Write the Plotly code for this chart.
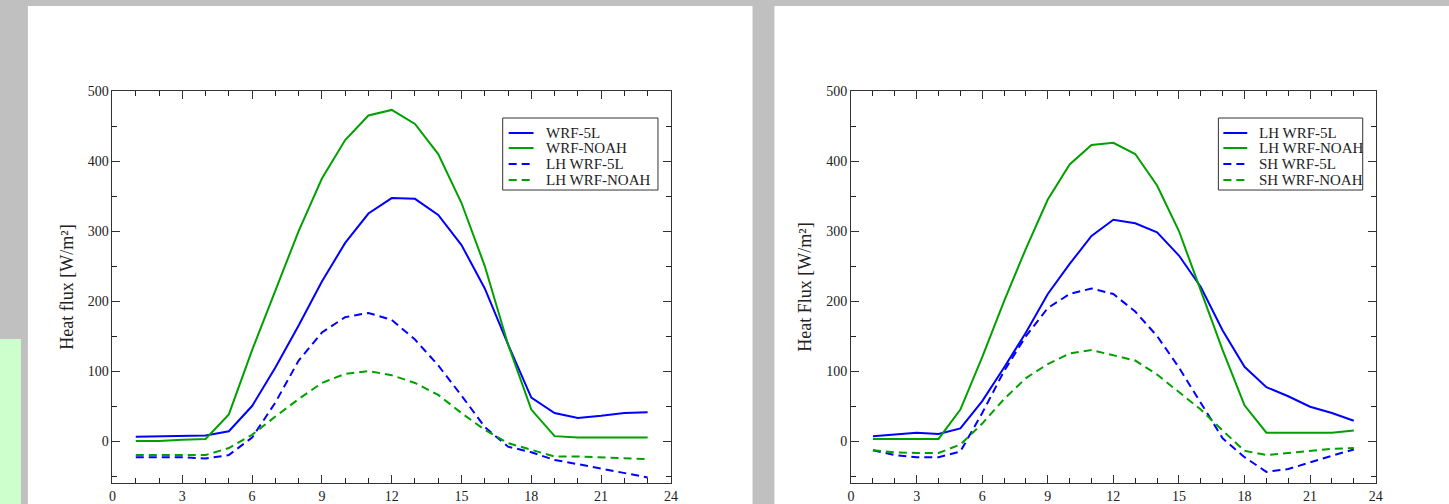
import plotly.graph_objects as go

hours = list(range(1, 24))

# Left panel
left_wrf5l = [6, 7, 7, 8, 14, 50, 105, 165, 228, 283, 325, 347, 346, 323, 280, 218, 138, 62, 40, 33, 36, 40, 41]
left_noah = [0, 0, 2, 3, 38, 130, 215, 300, 375, 430, 465, 473, 453, 410, 340, 250, 138, 45, 7, 5, 5, 5, 5]
left_lh_5l = [-23, -23, -23, -25, -20, 5, 55, 115, 155, 177, 183, 173, 145, 108, 65, 20, -8, -16, -27, -33, -39, -46, -52]
left_lh_noah = [-20, -20, -20, -20, -10, 9, 35, 60, 83, 96, 100, 94, 83, 66, 40, 16, -3, -12, -22, -22, -23, -24, -26]

# Right panel
right_lh_5l = [7, 10, 12, 10, 18, 57, 105, 155, 210, 253, 293, 316, 311, 298, 265, 220, 158, 106, 77, 64, 49, 40, 29]
right_lh_noah = [3, 3, 3, 3, 45, 120, 200, 275, 345, 395, 423, 426, 410, 365, 300, 215, 130, 51, 12, 12, 12, 12, 15]
right_sh_5l = [-13, -20, -23, -23, -15, 40, 100, 150, 190, 210, 218, 210, 185, 150, 105, 55, 4, -23, -44, -40, -30, -21, -12]
right_sh_noah = [-13, -16, -17, -17, -5, 25, 60, 90, 110, 125, 130, 122, 115, 95, 70, 45, 15, -14, -20, -17, -13, -11, -10]

left_names = ["WRF-5L", "WRF-NOAH", "LH WRF-5L", "LH WRF-NOAH"]
right_names = ["LH WRF-5L", "LH WRF-NOAH", "SH WRF-5L", "SH WRF-NOAH"]

W, H = 1449, 504
BLUE = "#0000ff"
GREEN = "#00a000"
DASH = "8px,5px"
FONT = "Liberation Serif, Times New Roman, serif"
AX = "#333"
TXT = "#222"

# measured offset/scale between paper coordinates and the final picture
OX, SX = 3.0, 0.997
OY, SY = 7.0, 0.986


def px_x(p):
    return (p - OX) / SX / W


def px_y(p):
    return 1 - (p - OY) / SY / H


fig = go.Figure()

styles = [(BLUE, "solid"), (GREEN, "solid"), (BLUE, DASH), (GREEN, DASH)]
for data, name, (c, d) in zip([left_wrf5l, left_noah, left_lh_5l, left_lh_noah], left_names, styles):
    fig.add_trace(go.Scatter(x=hours, y=data, mode="lines", name=name, showlegend=False,
                             line=dict(color=c, width=2, dash=d), xaxis="x", yaxis="y"))
for data, name, (c, d) in zip([right_lh_5l, right_lh_noah, right_sh_5l, right_sh_noah], right_names, styles):
    fig.add_trace(go.Scatter(x=hours, y=data, mode="lines", name=name, showlegend=False,
                             line=dict(color=c, width=2, dash=d), xaxis="x2", yaxis="y2"))

axis_common = dict(showline=True, linecolor=AX, linewidth=1, mirror="ticks",
                   ticks="inside", ticklen=8, tickwidth=1, tickcolor=AX, showgrid=False,
                   zeroline=False, tickfont=dict(family=FONT, size=14, color=TXT))
xminor = dict(ticks="inside", ticklen=5, tickwidth=1, tickcolor="#222", dtick=1, tick0=0,
              showgrid=False, nticks=25)
yminor = dict(ticks="inside", ticklen=5, tickwidth=1, tickcolor="#222", dtick=50, tick0=0,
              showgrid=False, nticks=12)
title_font = dict(family=FONT, size=18, color=TXT)

shapes = [
    dict(type="rect", xref="paper", yref="paper", x0=px_x(27), x1=px_x(755), y0=px_y(510), y1=px_y(-10),
         fillcolor="white", line=dict(width=0), layer="below"),
    dict(type="rect", xref="paper", yref="paper", x0=px_x(777), x1=px_x(1460), y0=px_y(510), y1=px_y(-10),
         fillcolor="white", line=dict(width=0), layer="below"),
    dict(type="rect", xref="paper", yref="paper", x0=px_x(-10), x1=px_x(20), y0=px_y(510), y1=px_y(339),
         fillcolor="#ccffcc", line=dict(width=0), layer="below"),
    # top gray strip of the original page
    dict(type="rect", xref="paper", yref="paper", x0=px_x(-10), x1=px_x(1460), y0=px_y(6), y1=px_y(-20),
         fillcolor="#c0c0c0", line=dict(width=0), layer="below"),
]
annotations = []

legend_specs = [
    (left_names, 504, 660, 118, 190, 510, 535, 545),
    (right_names, 1223, 1368, 118, 190, 1228, 1252, 1262),
]
row_y = [133, 148, 164, 180]
for names, bx0, bx1, by0, by1, lx0, lx1, tx in legend_specs:
    shapes.append(dict(type="rect", xref="paper", yref="paper",
                       x0=px_x(bx0), x1=px_x(bx1), y0=px_y(by1), y1=px_y(by0),
                       fillcolor="white", line=dict(color=AX, width=1), layer="above"))
    for name, (c, d), ry in zip(names, styles, row_y):
        shapes.append(dict(type="line", xref="paper", yref="paper",
                           x0=px_x(lx0), x1=px_x(lx1), y0=px_y(ry), y1=px_y(ry),
                           line=dict(color=c, width=2, dash=d), layer="above"))
        annotations.append(dict(text=name, xref="paper", yref="paper", x=px_x(tx), y=px_y(ry),
                                xanchor="left", yanchor="middle", showarrow=False,
                                font=dict(family=FONT, size=15, color=TXT)))

XR = [0, 24]
YR = [-60, 500]
fig.update_layout(
    width=W, height=H, margin=dict(l=0, r=0, t=0, b=0),
    paper_bgcolor="#c0c0c0", plot_bgcolor="white",
    font=dict(family=FONT, size=14, color=TXT),
    showlegend=False,
    xaxis=dict(domain=[px_x(112), px_x(673)], range=XR, tickmode="linear", tick0=0, dtick=3,
               anchor="y", minor=xminor, **axis_common),
    yaxis=dict(domain=[px_y(483), px_y(91)], range=YR, tickmode="linear", tick0=0, dtick=100,
               anchor="x", minor=yminor,
               title=dict(text="Heat flux [W/m²]", font=title_font, standoff=9), **axis_common),
    xaxis2=dict(domain=[px_x(854), px_x(1381)], range=XR, tickmode="linear", tick0=0, dtick=3,
                anchor="y2", minor=xminor, **axis_common),
    yaxis2=dict(domain=[px_y(483), px_y(91)], range=YR, tickmode="linear", tick0=0, dtick=100,
                anchor="x2", minor=yminor,
                title=dict(text="Heat Flux [W/m²]", font=title_font, standoff=9), **axis_common),
    shapes=shapes,
    annotations=annotations,
)

fig.write_html("out.html")
